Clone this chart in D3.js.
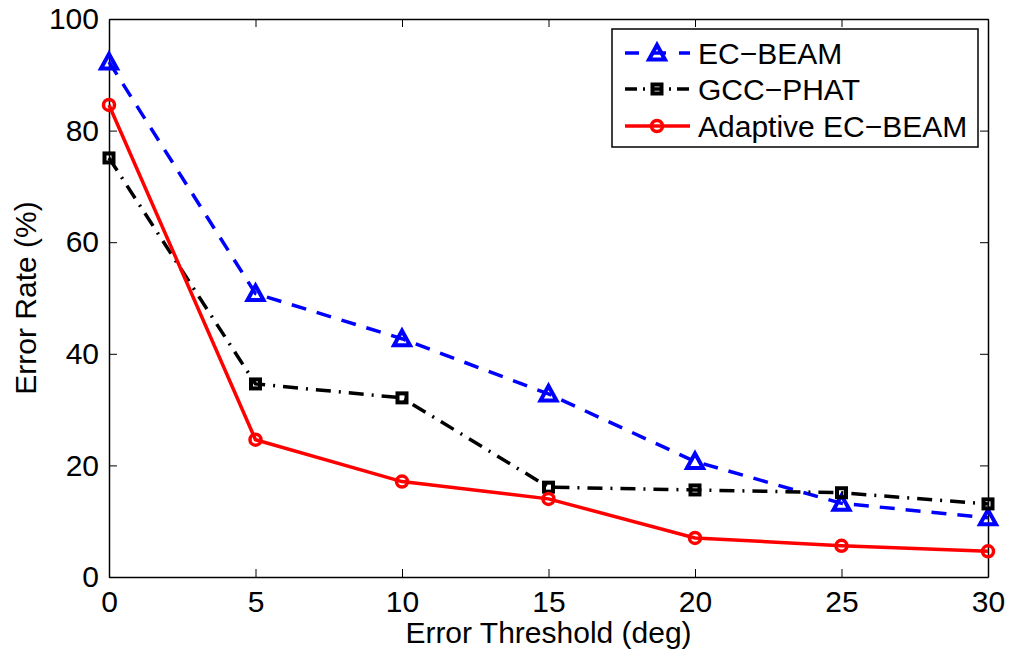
<!DOCTYPE html>
<html>
<head>
<meta charset="utf-8">
<script src="https://cdn.jsdelivr.net/npm/d3@7"></script>
<style>
  body { margin: 0; background: #fff; }
  svg { display: block; font-family: "Liberation Sans", Arial, sans-serif; }
</style>
</head>
<body>
<svg id="chart" width="1009" height="653"></svg>
<script>
// data
const thresholds = [0, 5, 10, 15, 20, 25, 30];
const ecBeam = [92.3, 50.8, 42.7, 32.8, 20.7, 13.2, 10.6];
const gccPhat = [75.1, 34.6, 32.1, 16.1, 15.6, 15.1, 13.1];
const adaptive = [84.6, 24.6, 17.1, 14.0, 7.0, 5.6, 4.6];
const xTicks = [0, 5, 10, 15, 20, 25, 30];
const yTicks = [0, 20, 40, 60, 80, 100];

const series = [
  { name: "EC\u2212BEAM", values: ecBeam, color: "#0000ff", dash: "15,11", marker: "triangle" },
  { name: "GCC\u2212PHAT", values: gccPhat, color: "#000000", dash: "15,8,2,8", marker: "square" },
  { name: "Adaptive EC\u2212BEAM", values: adaptive, color: "#ff0000", dash: null, marker: "circle" }
];

const svg = d3.select("#chart");
const margin = { left: 109, right: 1009 - 988, top: 19, bottom: 653 - 577 };
const width = 1009 - margin.left - margin.right;
const height = 653 - margin.top - margin.bottom;

const x = d3.scaleLinear().domain([0, 30]).range([margin.left, margin.left + width]);
const y = d3.scaleLinear().domain([0, 100]).range([margin.top + height, margin.top]);

const fontSize = 30;

// axes box with inward ticks (MATLAB style)
svg.append("g")
  .attr("transform", `translate(0,${y(0)})`)
  .call(d3.axisBottom(x).tickValues(xTicks).tickSizeInner(-8).tickSizeOuter(0).tickPadding(14));
svg.append("g")
  .attr("transform", `translate(${x(0)},0)`)
  .call(d3.axisLeft(y).tickValues(yTicks).tickSizeInner(-8).tickSizeOuter(0).tickPadding(10));
// top / right ticks
svg.append("g")
  .attr("transform", `translate(0,${y(100)})`)
  .call(d3.axisTop(x).tickValues(xTicks).tickSizeInner(-8).tickSizeOuter(0).tickFormat(""));
svg.append("g")
  .attr("transform", `translate(${x(30)},0)`)
  .call(d3.axisRight(y).tickValues(yTicks).tickSizeInner(-8).tickSizeOuter(0).tickFormat(""));

svg.selectAll(".domain").attr("stroke", "#000").attr("stroke-width", 1.5);
svg.selectAll(".tick line").attr("stroke", "#000").attr("stroke-width", 1);
svg.selectAll(".tick text")
  .attr("fill", "#000")
  .style("font-size", fontSize + "px")
  .style("font-family", "'Liberation Sans', Arial, sans-serif");

// axis labels
svg.append("text")
  .attr("x", x(15))
  .attr("y", 643)
  .attr("text-anchor", "middle")
  .style("font-size", fontSize + "px")
  .text("Error Threshold (deg)");
svg.append("text")
  .attr("transform", `translate(36,${y(50)}) rotate(-90)`)
  .attr("text-anchor", "middle")
  .style("font-size", fontSize + "px")
  .text("Error Rate (%)");

// marker drawer
function drawMarker(g, type, cx, cy, color) {
  if (type === "triangle") {
    g.append("path")
      .attr("d", `M${cx},${cy - 8} L${cx + 8},${cy + 6.5} L${cx - 8},${cy + 6.5} Z`)
      .attr("fill", "none").attr("stroke", color).attr("stroke-width", 4)
      .attr("stroke-linejoin", "miter");
  } else if (type === "square") {
    const s = 4.5;
    g.append("rect")
      .attr("x", cx - s).attr("y", cy - s).attr("width", 2 * s).attr("height", 2 * s)
      .attr("fill", "none").attr("stroke", color).attr("stroke-width", 4);
  } else {
    g.append("circle")
      .attr("cx", cx).attr("cy", cy).attr("r", 5.5)
      .attr("fill", "none").attr("stroke", color).attr("stroke-width", 3.5);
  }
}

const line = d3.line().x(d => x(d[0])).y(d => y(d[1]));

series.forEach(s => {
  const pts = thresholds.map((t, i) => [t, s.values[i]]);
  const g = svg.append("g");
  g.append("path")
    .attr("d", line(pts))
    .attr("fill", "none")
    .attr("stroke", s.color)
    .attr("stroke-width", 3.5)
    .attr("stroke-dasharray", s.dash);
  pts.forEach(p => drawMarker(g, s.marker, x(p[0]), y(p[1]), s.color));
});

// legend
const legend = svg.append("g");
legend.append("rect")
  .attr("x", 612).attr("y", 29).attr("width", 366).attr("height", 118)
  .attr("fill", "#fff").attr("stroke", "#000").attr("stroke-width", 1.5);
const rowY = [53, 89, 126];
series.forEach((s, i) => {
  legend.append("line")
    .attr("x1", 625).attr("x2", 690)
    .attr("y1", rowY[i]).attr("y2", rowY[i])
    .attr("stroke", s.color).attr("stroke-width", 3.5)
    .attr("stroke-dasharray", s.dash ? (i === 0 ? "14,13" : "12,6,2,6") : null)
    .attr("stroke-dashoffset", s.dash ? (i === 0 ? -0 : 0) : 0);
  drawMarker(legend, s.marker, 657, rowY[i], s.color);
  legend.append("text")
    .attr("x", 698).attr("y", rowY[i])
    .attr("dy", "0.36em")
    .style("font-size", fontSize + "px")
    .text(s.name);
});
</script>
</body>
</html>
